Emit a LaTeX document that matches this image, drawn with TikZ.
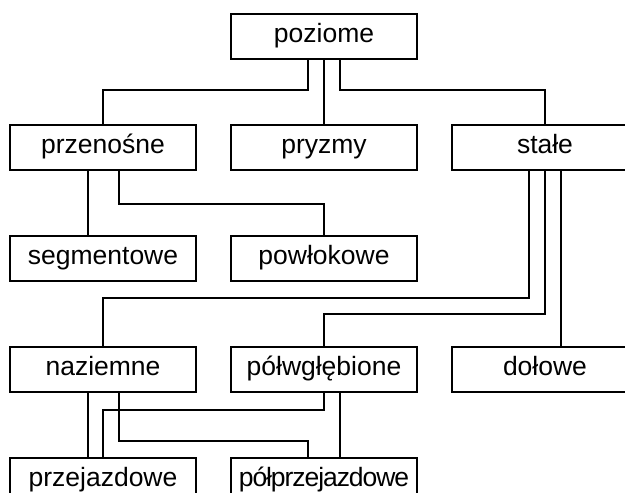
\documentclass[tikz,border=0pt]{standalone}
\usepackage{fontspec}
\setmainfont{Liberation Sans}
\usetikzlibrary{positioning}

\begin{document}
\begin{tikzpicture}[
  font=\fontsize{26.5}{30}\selectfont,
  box/.style={
    draw=black, line width=2pt, inner sep=0pt,
    minimum width=186pt, minimum height=45pt,
    text height=19pt, text depth=6pt, align=center
  },
  wire/.style={draw=black, line width=2pt}
]
  \clip (0pt,0pt) rectangle (625pt,-493pt);
  \fill[white] (0pt,0pt) rectangle (625pt,-493pt);

  \node[box] (poz) at (324pt,-36pt) {poziome};
  \node[box, below=64pt of poz] (pry) {pryzmy};
  \node[box, left=33pt of pry] (prz) {przenośne};
  \node[box, right=33pt of pry] (sta) {stałe};
  \node[box, below=64pt of prz] (seg) {segmentowe};
  \node[box, below=64pt of pry] (pow) {powłokowe};
  \node[box, below=64pt of pow] (pol) {półwgłębione};
  \node[box, left=33pt of pol] (naz) {naziemne};
  \node[box, right=33pt of pol] (dol) {dołowe};
  \node[box, below=64pt of naz] (prj) {przejazdowe};
  \node[box, below=64pt of pol] (ppj) {\addfontfeature{LetterSpace=-4}półprzejazdowe};

  % poziome
  \draw[wire] ([xshift=-16pt]poz.south) -- ++(0,-30pt) -| (prz.north);
  \draw[wire] (poz.south) -- (pry.north);
  \draw[wire] ([xshift=16pt]poz.south) -- ++(0,-30pt) -| (sta.north);

  % przenosne
  \draw[wire] ([xshift=-15pt]prz.south) -- ([xshift=-15pt]seg.north);
  \draw[wire] ([xshift=16pt]prz.south) -- ++(0,-33pt) -| (pow.north);

  % stale
  \draw[wire] ([xshift=-16pt]sta.south) |- ([yshift=48pt]naz.north) -- (naz.north);
  \draw[wire] (sta.south) |- ([yshift=32pt]pol.north) -- (pol.north);
  \draw[wire] ([xshift=16pt]sta.south) -- ([xshift=16pt]dol.north);

  % naziemne, polwglebione
  \draw[wire] ([xshift=-15pt]naz.south) -- ([xshift=-15pt]prj.north);
  \draw[wire] (pol.south) -- ++(0,-17pt) -| (prj.north);
  \draw[wire] ([xshift=16pt]naz.south) -- ++(0,-48pt) -| ([xshift=-16pt]ppj.north);
  \draw[wire] ([xshift=16pt]pol.south) -- ([xshift=16pt]ppj.north);
\end{tikzpicture}
\end{document}
